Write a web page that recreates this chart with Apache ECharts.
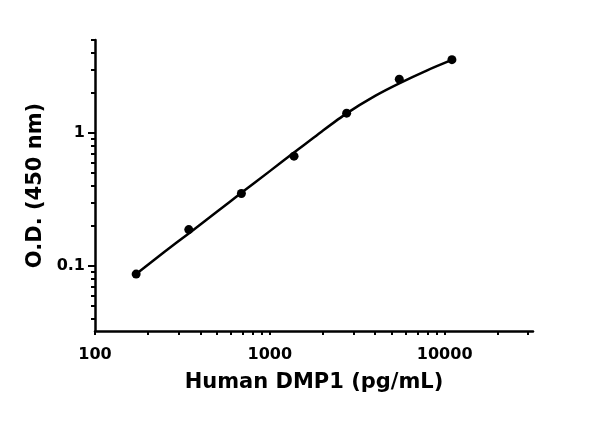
<!DOCTYPE html>
<html>
<head>
<meta charset="utf-8">
<script src="https://cdn.jsdelivr.net/npm/echarts@6/dist/echarts.min.js"></script>
<style>
  html, body { margin: 0; padding: 0; background: #fff; }
  #chart { width: 600px; height: 421px; }
</style>
</head>
<body>
<div id="chart"></div>
<script>
// standards (pg/mL) and measured O.D.
var conc = [171.9, 343.8, 687.5, 1375, 2750, 5500, 11000];
var od = [0.087, 0.188, 0.351, 0.670, 1.41, 2.54, 3.56];
// fitted curve
var fitConc = [171.9, 250, 343.8, 500, 687.5, 1000, 1375, 2000, 2750, 4000, 5500, 8000, 11000];
var fitOd = [0.087, 0.128, 0.176, 0.257, 0.355, 0.517, 0.713, 1.037, 1.405, 1.90, 2.36, 2.97, 3.54];
// tick positions
var xLabels = [100, 1000, 10000];
var xTicks = [100, 200, 300, 400, 500, 600, 700, 800, 900, 1000, 2000, 3000, 4000, 5000, 6000, 7000, 8000, 9000, 10000, 20000, 30000];
var yLabels = [0.1, 1];
var yMinor = [0.04, 0.05, 0.06, 0.07, 0.08, 0.09, 0.2, 0.3, 0.4, 0.5, 0.6, 0.7, 0.8, 0.9, 2, 3, 4, 5];

var chart = echarts.init(document.getElementById('chart'));
var font = 'DejaVu Sans';
function fmt(v) { return String(+(+v).toPrecision(6)); }

var axisLine = { show: true, lineStyle: { color: '#000', width: 2.5 } };

var option = {
  backgroundColor: '#fff',
  animation: false,
  grid: { left: 95, right: 67, top: 40, bottom: 90 },
  xAxis: {
    type: 'log',
    logBase: 10,
    min: 100,
    max: 32000,
    name: 'Human DMP1 (pg/mL)',
    nameLocation: 'middle',
    nameGap: 41,
    nameTextStyle: { fontFamily: font, fontWeight: 'bold', fontSize: 21, color: '#000' },
    axisLine: axisLine,
    axisTick: { show: true, length: 4, customValues: xTicks, lineStyle: { color: '#000', width: 2 } },
    axisLabel: { customValues: xLabels, formatter: fmt, margin: 16, fontFamily: font, fontWeight: 'bold', fontSize: 16, color: '#000' },
    splitLine: { show: false }
  },
  yAxis: [{
    type: 'log',
    logBase: 10,
    min: 0.0325,
    max: 5,
    name: 'O.D. (450 nm)',
    nameLocation: 'middle',
    nameGap: 45,
    nameTextStyle: { fontFamily: font, fontWeight: 'bold', fontSize: 21, color: '#000' },
    axisLine: axisLine,
    axisTick: { show: true, length: 7, customValues: yLabels, lineStyle: { color: '#000', width: 2 } },
    axisLabel: { customValues: yLabels, formatter: fmt, margin: 10, fontFamily: font, fontWeight: 'bold', fontSize: 16, color: '#000' },
    splitLine: { show: false }
  }, {
    type: 'log',
    logBase: 10,
    min: 0.0325,
    max: 5,
    position: 'left',
    axisLine: { show: false },
    axisTick: { show: true, length: 4, customValues: yMinor, lineStyle: { color: '#000', width: 2 } },
    axisLabel: { show: false },
    splitLine: { show: false }
  }],
  series: [{
    type: 'line',
    data: fitConc.map(function (c, i) { return [c, fitOd[i]]; }),
    smooth: 0.25,
    showSymbol: false,
    lineStyle: { color: '#000', width: 2.5 },
    z: 2
  }, {
    type: 'scatter',
    data: conc.map(function (c, i) { return [c, od[i]]; }),
    symbol: 'circle',
    symbolSize: 9,
    itemStyle: { color: '#000', opacity: 1 },
    z: 3
  }]
};
chart.setOption(option);
</script>
</body>
</html>
